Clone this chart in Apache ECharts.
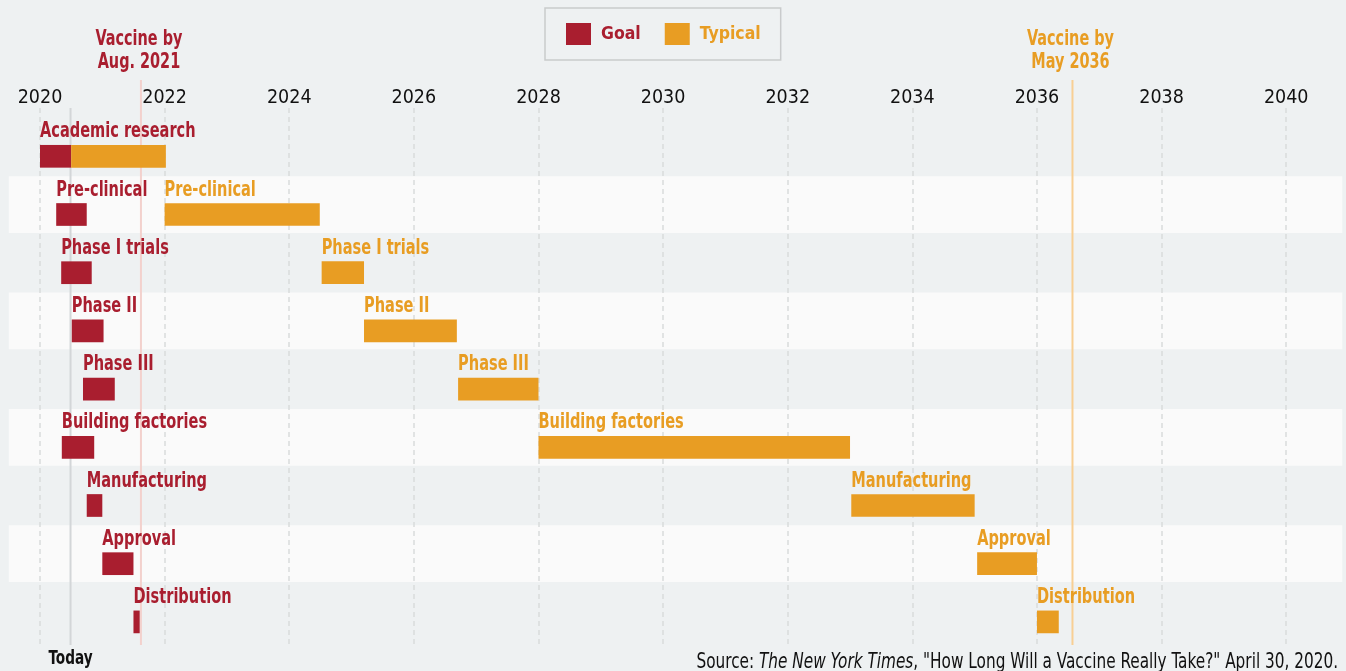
<!DOCTYPE html>
<html>
<head>
<meta charset="utf-8">
<script src="https://cdn.jsdelivr.net/npm/echarts@6/dist/echarts.min.js"></script>
<style>
html,body{margin:0;padding:0;background:#eef1f2;}
#c{width:1346px;height:671px;}
</style>
</head>
<body>
<div id="c"></div>
<script>
var stages = ['Academic research', 'Pre-clinical', 'Phase I trials', 'Phase II', 'Phase III', 'Building factories', 'Manufacturing', 'Approval', 'Distribution'];
var typicalLabels = ['', 'Pre-clinical', 'Phase I trials', 'Phase II', 'Phase III', 'Building factories', 'Manufacturing', 'Approval', 'Distribution'];
var goalStart = [2020.0, 2020.26, 2020.34, 2020.51, 2020.69, 2020.35, 2020.75, 2021.0, 2021.5];
var goalEnd = [2020.5, 2020.75, 2020.83, 2021.02, 2021.2, 2020.87, 2021.0, 2021.5, 2021.6];
var typicalStart = [2020.5, 2022.0, 2024.52, 2025.2, 2026.71, 2028.0, 2033.02, 2035.04, 2036.0];
var typicalEnd = [2022.02, 2024.49, 2025.2, 2026.69, 2028.0, 2033.0, 2035.0, 2036.0, 2036.35];
var bandRows = [1, 3, 5, 7];
var bandExtent = [2019.5, 2040.9];
var refDates = [2020.49, 2021.62, 2036.57];
var refLabels = ['Today', 'Vaccine by\nAug. 2021', 'Vaccine by\nMay 2036'];
var yearTicks = [2020, 2022, 2024, 2026, 2028, 2030, 2032, 2034, 2036, 2038, 2040];
var sourceText = 'Source: {it|The New York Times}, "How Long Will a Vaccine Really Take?" April 30, 2020.';

var RED = '#a91e2f', ORANGE = '#e89d23';
var FONT = '"DejaVu Sans Condensed", "DejaVu Sans", sans-serif';

var chart = echarts.init(document.getElementById('c'), null, {renderer: 'canvas'});

function barItem(startArr, endArr, labelArr, color) {
  return function (params, api) {
    var i = params.dataIndex;
    var p0 = api.coord([startArr[i], i]);
    var p1 = api.coord([endArr[i], i]);
    var rowH = api.size([0, 1])[1];
    var bh = rowH * 0.39;
    var children = [{
      type: 'rect',
      shape: {x: p0[0], y: p0[1] - bh / 2, width: p1[0] - p0[0], height: bh},
      style: {fill: color}
    }];
    if (labelArr[i]) {
      children.push({
        type: 'text',
        z2: 10,
        x: p0[0], y: p0[1] - rowH * 0.415,
        scaleX: 0.79,
        style: {
          x: 0, y: 0,
          text: labelArr[i], fill: color,
          font: 'bold 20.5px ' + FONT,
          align: 'left', verticalAlign: 'middle'
        }
      });
    }
    return {type: 'group', children: children};
  };
}

var option = {
  backgroundColor: '#eef1f2',
  animation: false,
  grid: {left: 40, top: 108, width: 1246.2, height: 537, containLabel: false},
  legend: {
    left: 545, top: 8,
    padding: [15, 20, 15, 21],
    borderColor: '#c9cbcc', borderWidth: 1.5,
    itemWidth: 25, itemHeight: 22, itemGap: 24,
    icon: 'rect',
    selectedMode: false,
    textStyle: {fontFamily: FONT, fontWeight: 'bold', fontSize: 17.5, padding: [4, 0, 0, 5]},
    data: [
      {name: 'Goal', textStyle: {color: RED}},
      {name: 'Typical', textStyle: {color: ORANGE}}
    ]
  },
  xAxis: {
    type: 'value', position: 'top', min: yearTicks[0], max: yearTicks[yearTicks.length - 1], interval: 2,
    z: 1,
    axisLine: {show: false}, axisTick: {show: false},
    axisLabel: {fontFamily: FONT, fontSize: 19.5, color: '#111', margin: 0, formatter: function (v) { return String(v); }},
    splitLine: {show: true, lineStyle: {color: '#d9dbdc', width: 1.5, type: [5, 4]}}
  },
  yAxis: {type: 'value', inverse: true, min: -0.83, max: 8.397, show: false},
  series: [
    {
      type: 'custom', name: 'bands', z: 0, silent: true,
      data: bandRows.map(function (r) { return [bandExtent[0], r]; }),
      renderItem: function (params, api) {
        var r = bandRows[params.dataIndex];
        var p0 = api.coord([bandExtent[0], r]);
        var p1 = api.coord([bandExtent[1], r]);
        var rowH = api.size([0, 1])[1];
        return {type: 'rect', shape: {x: p0[0], y: p0[1] - rowH * 0.659, width: p1[0] - p0[0], height: rowH * 0.975}, style: {fill: '#fafafa'}};
      }
    },
    {
      type: 'custom', name: 'refs', z: 2, silent: true,
      data: refDates.map(function (d) { return [d, 0]; }),
      renderItem: function (params, api) {
        var i = params.dataIndex;
        var cs = params.coordSys;
        var x = api.coord([refDates[i], 0])[0];
        var lineColors = ['#d3d6d8', '#f3d1cd', '#f8cf94'];
        var textColors = ['#111', RED, ORANGE];
        var top = i === 0 ? cs.y : cs.y - 28;
        var children = [{
          type: 'line',
          shape: {x1: x, y1: top, x2: x, y2: cs.y + cs.height},
          style: {stroke: lineColors[i], lineWidth: 2}
        }];
        if (i === 0) {
          children.push({type: 'text', x: x, y: cs.y + cs.height + 14, scaleX: 0.76,
            style: {x: 0, y: 0, text: refLabels[i], fill: textColors[i], font: 'bold 20px ' + FONT, align: 'center', verticalAlign: 'middle'}});
        } else {
          children.push({type: 'text', x: x - 2, y: 51, scaleX: 0.765,
            style: {x: 0, y: 0, text: refLabels[i], fill: textColors[i], font: 'bold 21px ' + FONT, lineHeight: 22.5, align: 'center', verticalAlign: 'middle'}});
        }
        return {type: 'group', children: children};
      }
    },
    {
      type: 'custom', name: 'Goal', z: 3, itemStyle: {color: RED},
      data: stages.map(function (s, i) { return [goalStart[i], i, goalEnd[i]]; }),
      renderItem: barItem(goalStart, goalEnd, stages, RED)
    },
    {
      type: 'custom', name: 'Typical', z: 3, itemStyle: {color: ORANGE},
      data: stages.map(function (s, i) { return [typicalStart[i], i, typicalEnd[i]]; }),
      renderItem: barItem(typicalStart, typicalEnd, typicalLabels, ORANGE)
    }
  ],
  graphic: [{
    type: 'text', x: 1338, y: 662.5, scaleX: 0.83,
    style: {
      x: 0, y: 0,
      text: sourceText, fill: '#111',
      font: '20.5px ' + FONT,
      align: 'right', verticalAlign: 'middle',
      rich: {it: {fontStyle: 'italic', fontFamily: FONT, fontSize: 20.5, fill: '#111'}}
    }
  }]
};
chart.setOption(option);
</script>
</body>
</html>
